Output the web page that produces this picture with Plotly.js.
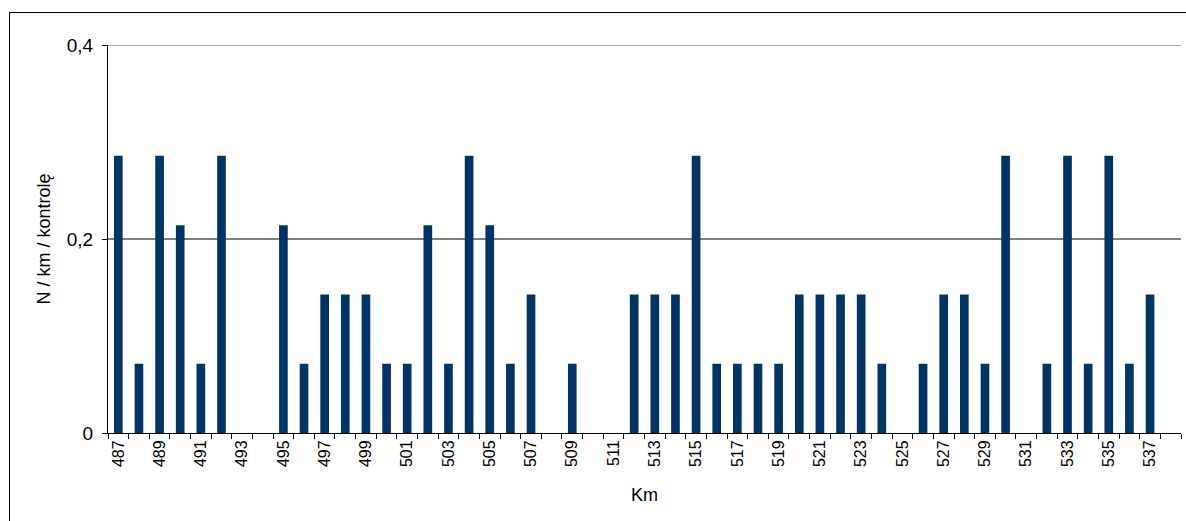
<!DOCTYPE html>
<html>
<head>
<meta charset="utf-8">
<script src="https://cdn.plot.ly/plotly-3.0.1.min.js"></script>
<style>
  html, body { margin: 0; padding: 0; background: #fff; }
  #chart { width: 1186px; height: 521px; position: absolute; left: 0; top: 0; }
  #frame { position: absolute; left: 9px; top: 12px; width: 1200px; height: 540px;
           border: 1px solid #000; box-sizing: border-box; pointer-events: none; }
</style>
</head>
<body>
<div id="chart"></div>
<div id="frame"></div>
<script>
const kmCategories = [487,488,489,490,491,492,493,494,495,496,497,498,499,500,501,502,503,504,505,506,507,508,509,510,511,512,513,514,515,516,517,518,519,520,521,522,523,524,525,526,527,528,529,530,531,532,533,534,535,536,537,538];
const nPerKm = [0.2857,0.0714,0.2857,0.2143,0.0714,0.2857,0,0,0.2143,0.0714,0.1429,0.1429,0.1429,0.0714,0.0714,0.2143,0.0714,0.2857,0.2143,0.0714,0.1429,0,0.0714,0,0,0.1429,0.1429,0.1429,0.2857,0.0714,0.0714,0.0714,0.0714,0.1429,0.1429,0.1429,0.1429,0.0714,0,0.0714,0.1429,0.1429,0.0714,0.2857,0,0.0714,0.2857,0.0714,0.2857,0.0714,0.1429,0];
const xTickVals = [487,489,491,493,495,497,499,501,503,505,507,509,511,513,515,517,519,521,523,525,527,529,531,533,535,537];
const xTickText = xTickVals.map(String);
const yTickVals = [0, 0.2, 0.4];

const trace = {
  type: 'bar',
  x: kmCategories,
  y: nPerKm,
  marker: { color: '#003366', line: { width: 0 } },
  width: 0.42,
  hoverinfo: 'x+y'
};

const layout = {
  width: 1186, height: 521,
  margin: { l: 108, r: 5, t: 45, b: 88 },
  paper_bgcolor: 'rgba(0,0,0,0)',
  plot_bgcolor: 'rgba(0,0,0,0)',
  separators: ', ',
  font: { family: 'Liberation Sans, Arial, sans-serif', color: '#000' },
  showlegend: false,
  shapes: [{
    type: 'line', xref: 'paper', yref: 'y', x0: 0, x1: 1,
    y0: yTickVals[yTickVals.length - 1], y1: yTickVals[yTickVals.length - 1],
    line: { color: '#808080', width: 1.5 }, layer: 'below'
  }],
  xaxis: {
    type: 'linear',
    range: [486.5, 538.5],
    tickmode: 'array',
    tickvals: xTickVals,
    ticktext: xTickText,
    tickangle: -90,
    ticks: '',
    tickfont: { size: 16, color: '#000' },
    showgrid: false,
    zeroline: false,
    showline: true,
    linecolor: '#000',
    linewidth: 1,
    minor: { tickmode: 'linear', tick0: 486.5, dtick: 1, ticks: 'outside', ticklen: 5, tickcolor: '#000', tickwidth: 1, showgrid: false },
    title: { text: 'Km', font: { size: 18, color: '#000' }, standoff: 22 },
    fixedrange: true
  },
  yaxis: {
    range: [0, 0.4],
    tickmode: 'array',
    tickvals: yTickVals,
    ticks: 'outside',
    ticklen: 5,
    tickcolor: '#000',
    tickfont: { size: 19, color: '#000' },
    ticklabelstandoff: 5,
    showgrid: true,
    gridcolor: '#808080',
    gridwidth: 1.5,
    zeroline: false,
    showline: true,
    linecolor: '#000',
    linewidth: 1,
    title: { text: 'N / km / kontrolę', font: { size: 18, color: '#000' }, standoff: 11 },
    fixedrange: true
  }
};

Plotly.newPlot('chart', [trace], layout, { displayModeBar: false, staticPlot: true });
</script>
</body>
</html>
